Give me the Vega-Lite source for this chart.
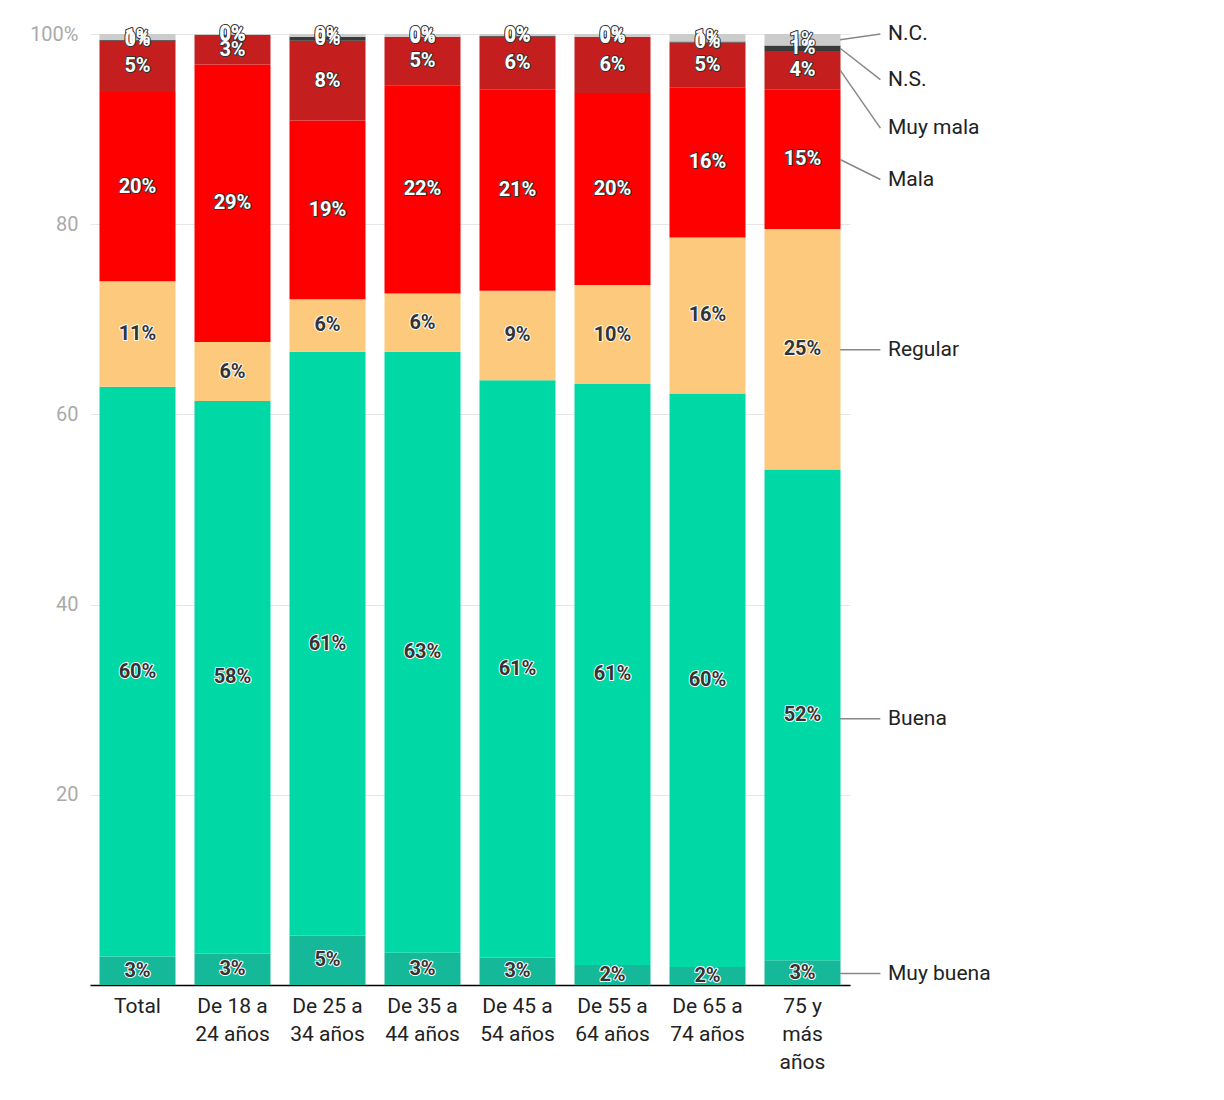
{
  "$schema": "https://vega.github.io/schema/vega-lite/v6.json",
  "width": 760,
  "height": 951,
  "autosize": "none",
  "padding": {"left": 90, "top": 34, "right": 374, "bottom": 115},
  "background": "white",
  "config": {"font": "Roboto", "view": {"stroke": null}},
  "datasets": {
    "main": [
      {"g":"Total","s":"Muy buena","o":1,"v":3.0},{"g":"Total","s":"Buena","o":2,"v":59.9},{"g":"Total","s":"Regular","o":3,"v":11.1},{"g":"Total","s":"Mala","o":4,"v":19.9},{"g":"Total","s":"Muy mala","o":5,"v":5.4},{"g":"Total","s":"N.S.","o":6,"v":0.1},{"g":"Total","s":"N.C.","o":7,"v":0.6},
      {"g":"De 18 a 24 años","s":"Muy buena","o":1,"v":3.3},{"g":"De 18 a 24 años","s":"Buena","o":2,"v":58.1},{"g":"De 18 a 24 años","s":"Regular","o":3,"v":6.2},{"g":"De 18 a 24 años","s":"Mala","o":4,"v":29.2},{"g":"De 18 a 24 años","s":"Muy mala","o":5,"v":3.1},{"g":"De 18 a 24 años","s":"N.S.","o":6,"v":0.0},{"g":"De 18 a 24 años","s":"N.C.","o":7,"v":0.1},
      {"g":"De 25 a 34 años","s":"Muy buena","o":1,"v":5.2},{"g":"De 25 a 34 años","s":"Buena","o":2,"v":61.4},{"g":"De 25 a 34 años","s":"Regular","o":3,"v":5.5},{"g":"De 25 a 34 años","s":"Mala","o":4,"v":18.8},{"g":"De 25 a 34 años","s":"Muy mala","o":5,"v":8.4},{"g":"De 25 a 34 años","s":"N.S.","o":6,"v":0.4},{"g":"De 25 a 34 años","s":"N.C.","o":7,"v":0.3},
      {"g":"De 35 a 44 años","s":"Muy buena","o":1,"v":3.4},{"g":"De 35 a 44 años","s":"Buena","o":2,"v":63.2},{"g":"De 35 a 44 años","s":"Regular","o":3,"v":6.1},{"g":"De 35 a 44 años","s":"Mala","o":4,"v":21.9},{"g":"De 35 a 44 años","s":"Muy mala","o":5,"v":5.1},{"g":"De 35 a 44 años","s":"N.S.","o":6,"v":0.0},{"g":"De 35 a 44 años","s":"N.C.","o":7,"v":0.3},
      {"g":"De 45 a 54 años","s":"Muy buena","o":1,"v":2.9},{"g":"De 45 a 54 años","s":"Buena","o":2,"v":60.7},{"g":"De 45 a 54 años","s":"Regular","o":3,"v":9.4},{"g":"De 45 a 54 años","s":"Mala","o":4,"v":21.2},{"g":"De 45 a 54 años","s":"Muy mala","o":5,"v":5.5},{"g":"De 45 a 54 años","s":"N.S.","o":6,"v":0.1},{"g":"De 45 a 54 años","s":"N.C.","o":7,"v":0.2},
      {"g":"De 55 a 64 años","s":"Muy buena","o":1,"v":2.1},{"g":"De 55 a 64 años","s":"Buena","o":2,"v":61.1},{"g":"De 55 a 64 años","s":"Regular","o":3,"v":10.4},{"g":"De 55 a 64 años","s":"Mala","o":4,"v":20.2},{"g":"De 55 a 64 años","s":"Muy mala","o":5,"v":5.9},{"g":"De 55 a 64 años","s":"N.S.","o":6,"v":0.0},{"g":"De 55 a 64 años","s":"N.C.","o":7,"v":0.3},
      {"g":"De 65 a 74 años","s":"Muy buena","o":1,"v":1.9},{"g":"De 65 a 74 años","s":"Buena","o":2,"v":60.3},{"g":"De 65 a 74 años","s":"Regular","o":3,"v":16.4},{"g":"De 65 a 74 años","s":"Mala","o":4,"v":15.8},{"g":"De 65 a 74 años","s":"Muy mala","o":5,"v":4.7},{"g":"De 65 a 74 años","s":"N.S.","o":6,"v":0.1},{"g":"De 65 a 74 años","s":"N.C.","o":7,"v":0.8},
      {"g":"75 y más años","s":"Muy buena","o":1,"v":2.6},{"g":"75 y más años","s":"Buena","o":2,"v":51.6},{"g":"75 y más años","s":"Regular","o":3,"v":25.3},{"g":"75 y más años","s":"Mala","o":4,"v":14.7},{"g":"75 y más años","s":"Muy mala","o":5,"v":4.0},{"g":"75 y más años","s":"N.S.","o":6,"v":0.6},{"g":"75 y más años","s":"N.C.","o":7,"v":1.2}
    ],
    "legend": [
      {"s":"N.C.","mid":99.4,"ly":100.0,"x0":0.987,"x1":1.04,"xt":1.05},
      {"s":"N.S.","mid":98.5,"ly":95.2,"x0":0.987,"x1":1.04,"xt":1.05},
      {"s":"Muy mala","mid":96.2,"ly":90.1,"x0":0.987,"x1":1.04,"xt":1.05},
      {"s":"Mala","mid":86.8,"ly":84.7,"x0":0.987,"x1":1.04,"xt":1.05},
      {"s":"Regular","mid":66.8,"ly":66.8,"x0":0.987,"x1":1.04,"xt":1.05},
      {"s":"Buena","mid":28.0,"ly":28.0,"x0":0.987,"x1":1.04,"xt":1.05},
      {"s":"Muy buena","mid":1.2,"ly":1.2,"x0":0.987,"x1":1.04,"xt":1.05}
    ]
  },
  "layer": [
    {
      "data": {"name": "main"},
      "transform": [
        {"stack": "v", "groupby": ["g"], "sort": [{"field": "o"}], "as": ["y0", "y1"]},
        {"calculate": "(datum.y0 + datum.y1) / 2", "as": "mid"},
        {"calculate": "format(datum.v, '.0f') + '%'", "as": "lab"},
        {"calculate": "datum.s == 'Mala' || datum.s == 'Muy mala' || datum.s == 'N.S.' || datum.s == 'N.C.'", "as": "dark"}
      ],
      "encoding": {
        "x": {
          "field": "g", "type": "nominal", "sort": null,
          "scale": {"paddingInner": 0.2, "paddingOuter": 0.1},
          "axis": {
            "title": null, "labelAngle": 0, "labelFontSize": 21, "labelColor": "#222",
            "ticks": false, "domainColor": "#000", "domainWidth": 1.5, "labelPadding": 10, "labelLineHeight": 28,
            "labelExpr": "datum.label == 'Total' ? 'Total' : datum.label == '75 y más años' ? ['75 y', 'más', 'años'] : [substring(datum.label, 0, 7), substring(datum.label, 8)]"
          }
        }
      },
      "layer": [
        {
          "mark": {"type": "bar"},
          "encoding": {
            "y": {
              "field": "y0", "type": "quantitative",
              "scale": {"domain": [0, 100], "nice": false},
              "axis": {
                "title": null, "values": [0, 20, 40, 60, 80, 100], "domain": false, "ticks": false,
                "labelColor": "#aaa", "labelFontSize": 20, "gridColor": "#e6e6e6", "labelPadding": 12,
                "labelExpr": "datum.value == 100 ? '100%' : datum.value == 0 ? '' : datum.label"
              }
            },
            "y2": {"field": "y1"},
            "color": {
              "field": "s", "type": "nominal", "legend": null,
              "scale": {
                "domain": ["Muy buena", "Buena", "Regular", "Mala", "Muy mala", "N.S.", "N.C."],
                "range": ["#15b899", "#00d9a6", "#fdc97c", "#ff0000", "#c41e1e", "#3a3a3a", "#cccccc"]
              }
            }
          }
        },
        {
          "mark": {"type": "text", "fontSize": 20, "fontWeight": "bold", "strokeWidth": 2, "strokeJoin": "round"},
          "encoding": {
            "y": {"field": "mid", "type": "quantitative"},
            "text": {"field": "lab"},
            "stroke": {"condition": {"test": "datum.dark", "value": "#333"}, "value": "white"},
            "fill": {"condition": {"test": "datum.dark", "value": "#333"}, "value": "white"}
          }
        },
        {
          "mark": {"type": "text", "fontSize": 20, "fontWeight": "bold"},
          "encoding": {
            "y": {"field": "mid", "type": "quantitative"},
            "text": {"field": "lab"},
            "fill": {"condition": {"test": "datum.dark", "value": "white"}, "value": "#333"}
          }
        }
      ]
    },
    {
      "data": {"name": "legend"},
      "layer": [
        {
          "mark": {"type": "rule", "color": "#888", "strokeWidth": 1.5, "clip": false},
          "encoding": {
            "x": {"field": "x0", "type": "quantitative", "scale": {"domain": [0, 1]}, "axis": null},
            "x2": {"field": "x1"},
            "y": {"field": "mid", "type": "quantitative"},
            "y2": {"field": "ly"}
          }
        },
        {
          "mark": {"type": "text", "align": "left", "fontSize": 21, "color": "#222", "clip": false},
          "encoding": {
            "x": {"field": "xt", "type": "quantitative", "scale": {"domain": [0, 1]}, "axis": null},
            "y": {"field": "ly", "type": "quantitative"},
            "text": {"field": "s"}
          }
        }
      ]
    }
  ],
  "resolve": {"scale": {"x": "independent"}}
}
